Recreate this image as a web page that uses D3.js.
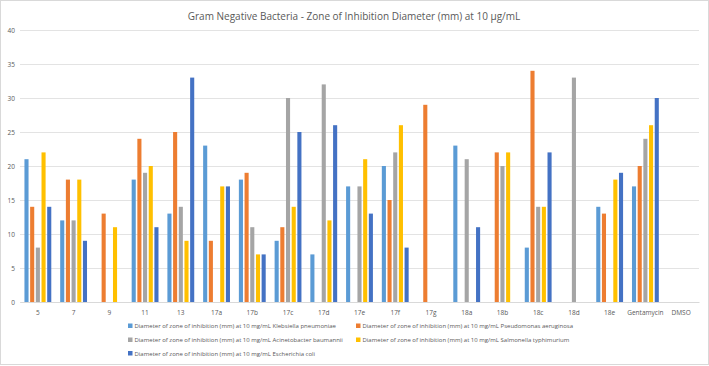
<!DOCTYPE html>
<html>
<head>
<meta charset="utf-8">
<script src="https://cdn.jsdelivr.net/npm/d3@7"></script>
<style>
  body { margin: 0; background: #fff; }
  text { font-family: "Open Sans", "Liberation Sans", sans-serif; fill: #595959; }
</style>
</head>
<body>
<div id="chart"></div>
<script>
// categories (compounds)
var compounds = ["5", "7", "9", "11", "13", "17a", "17b", "17c", "17d", "17e", "17f", "17g",
                 "18a", "18b", "18c", "18d", "18e", "Gentamycin", "DMSO"];

// one array per bacterium, zone diameter in mm
var klebsiella  = [21, 12, 0, 18, 13, 23, 18,  9,  7, 17, 20,  0, 23,  0,  8,  0, 14, 17, 0];
var pseudomonas = [14, 18, 13, 24, 25,  9, 19, 11,  0,  0, 15, 29,  0, 22, 34,  0, 13, 20, 0];
var acineto     = [ 8, 12, 0, 19, 14,  0, 11, 30, 32, 17, 22,  0, 21, 20, 14, 33,  0, 24, 0];
var salmonella  = [22, 18, 11, 20,  9, 17,  7, 14, 12, 21, 26,  0,  0, 22, 14,  0, 18, 26, 0];
var ecoli       = [14,  9, 0, 11, 33, 17,  7, 25, 26, 13,  8,  0, 11,  0, 22,  0, 19, 30, 0];

var seriesNames = [
  "Diameter of zone of inhibition (mm) at 10 mg/mL  Klebsiella pneumoniae",
  "Diameter of zone of inhibition (mm) at 10 mg/mL Pseudomonas aeruginosa",
  "Diameter of zone of inhibition (mm) at 10 mg/mL Acinetobacter baumannii",
  "Diameter of zone of inhibition (mm) at 10 mg/mL Salmonella typhimurium",
  "Diameter of zone of inhibition (mm) at 10 mg/mL Escherichia coli"
];
var seriesValues = [klebsiella, pseudomonas, acineto, salmonella, ecoli];
var colors = ["#5B9BD5", "#ED7D31", "#A5A5A5", "#FFC000", "#4472C4"];
var yTicks = [0, 5, 10, 15, 20, 25, 30, 35, 40];

var w = 709, h = 366;

var svg = d3.select("#chart").append("svg")
  .attr("width", w)
  .attr("height", h);

// chart area border
svg.append("rect")
  .attr("x", 0.5).attr("y", 0.5)
  .attr("width", w - 1).attr("height", h - 2)
  .attr("fill", "#fff")
  .attr("stroke", "#d9d9d9");

svg.append("text")
  .attr("x", 354)
  .attr("y", 20)
  .attr("text-anchor", "middle")
  .attr("font-size", "10px")
  .text("Gram Negative Bacteria - Zone of Inhibition Diameter (mm) at 10 \u00b5g/mL");

var x0 = d3.scaleBand()
  .domain(compounds)
  .range([20, 699])
  .paddingInner(0.16)
  .paddingOuter(0.08);

var x1 = d3.scaleBand()
  .domain(d3.range(5))
  .range([0, x0.bandwidth()])
  .padding(0.28);

var y = d3.scaleLinear()
  .domain([0, 40])
  .range([302, 30]);

// gridlines
svg.append("g")
  .selectAll("line")
  .data(yTicks)
  .enter().append("line")
  .attr("x1", 20).attr("x2", 699)
  .attr("y1", function(d) { return Math.round(y(d)) + 0.5; })
  .attr("y2", function(d) { return Math.round(y(d)) + 0.5; })
  .attr("stroke", "#e3e3e3");

// y axis labels
var yAxis = svg.append("g")
  .attr("transform", "translate(15,0)")
  .call(d3.axisLeft(y).tickValues(yTicks).tickSize(0).tickPadding(0));
yAxis.select(".domain").remove();
yAxis.selectAll("text").attr("font-size", "6.5px").attr("fill", "#595959").attr("text-anchor", "end");

// bars
var groups = svg.append("g")
  .selectAll("g")
  .data(compounds)
  .enter().append("g")
  .attr("transform", function(d) { return "translate(" + x0(d) + ",0)"; });

groups.selectAll("rect")
  .data(function(d, i) {
    return seriesValues.map(function(s, k) { return { k: k, v: s[i] }; });
  })
  .enter().append("rect")
  .attr("x", function(d) { return x1(d.k); })
  .attr("width", x1.bandwidth())
  .attr("y", function(d) { return y(d.v); })
  .attr("height", function(d) { return y(0) - y(d.v); })
  .attr("fill", function(d) { return colors[d.k]; });

// x axis
var xAxis = svg.append("g")
  .attr("transform", "translate(0,302)")
  .call(d3.axisBottom(x0).tickSize(0).tickPadding(8));
xAxis.select(".domain").attr("stroke", "#d9d9d9");
xAxis.selectAll("text").attr("font-size", "6.5px").attr("fill", "#595959");

// legend
var legendPos = [[128, 326], [356, 326], [128, 340], [356, 340], [128, 353.5]];
var legend = svg.append("g")
  .selectAll("g")
  .data(seriesNames)
  .enter().append("g")
  .attr("transform", function(d, i) { return "translate(" + legendPos[i][0] + "," + legendPos[i][1] + ")"; });

legend.append("rect")
  .attr("x", 0).attr("y", -2.5)
  .attr("width", 4.5).attr("height", 4.5)
  .attr("fill", function(d, i) { return colors[i]; });

legend.append("text")
  .attr("x", 6.5)
  .attr("y", 0)
  .attr("dy", ".35em")
  .attr("font-size", "6px")
  .text(function(d) { return d; });
</script>
</body>
</html>
